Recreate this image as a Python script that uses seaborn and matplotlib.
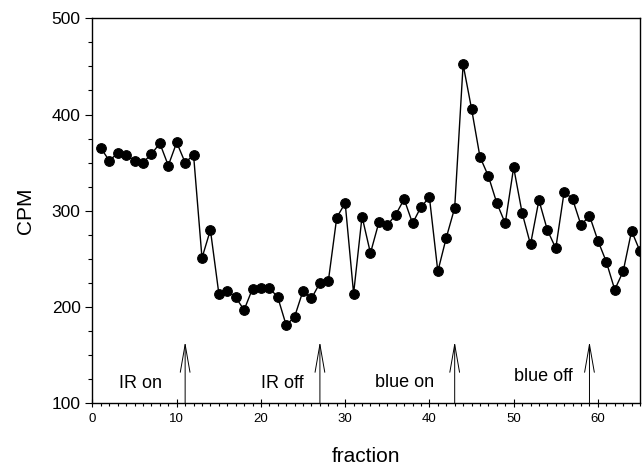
import numpy as np
import seaborn as sns
import matplotlib.pyplot as plt
from matplotlib.ticker import MultipleLocator

# CPM per fraction
fraction = list(range(1, 66))
cpm = [365, 352, 360, 358, 352, 350, 359, 370, 347, 371,
       350, 358, 251, 280, 214, 217, 210, 197, 219, 220,
       220, 210, 181, 190, 217, 209, 225, 227, 293, 308,
       214, 294, 256, 288, 285, 296, 312, 287, 304, 314,
       237, 272, 303, 452, 406, 356, 336, 308, 287, 345,
       298, 265, 311, 280, 261, 320, 312, 285, 295, 269,
       247, 218, 237, 279, 258]

# light switching events
event_x = [11, 27, 43, 59]
event_labels = ["IR on", "IR off", "blue on", "blue off"]
label_x = [5.7, 22.5, 37.1, 53.5]
label_y = [121, 121, 122, 128]

sns.set_style("ticks", {"text.color": "black", "axes.labelcolor": "black",
                        "xtick.color": "black", "ytick.color": "black",
                        "axes.edgecolor": "black"})
plt.rcParams['font.family'] = ['Liberation Sans', 'DejaVu Sans']

fig = plt.figure(figsize=(6.44, 4.68), dpi=100)
ax = fig.add_axes([0.1436, 0.1383, 0.8502, 0.8227])

sns.lineplot(x=fraction, y=cpm, ax=ax, color="black", linewidth=1.0,
             marker="o", markersize=7, markeredgecolor="black")

for xe, lab, lx, ly in zip(event_x, event_labels, label_x, label_y):
    ax.annotate("", xy=(xe, 164), xytext=(xe, 100),
                arrowprops=dict(arrowstyle="->, head_length=2.0, head_width=0.35",
                                color="black", lw=0.7, shrinkA=0, shrinkB=0,
                                mutation_scale=10))
    ax.text(lx, ly, lab, ha="center", va="center", fontsize=13, color="black")

ax.set_xlim(0, 65)
ax.set_ylim(100, 500)
ax.xaxis.set_major_locator(MultipleLocator(10))
ax.xaxis.set_minor_locator(MultipleLocator(1))
ax.yaxis.set_major_locator(MultipleLocator(100))
ax.yaxis.set_minor_locator(MultipleLocator(25))
ax.tick_params(axis="y", which="major", direction="out", length=5, width=0.8,
               labelsize=12.5, colors="black")
ax.tick_params(axis="y", which="minor", direction="out", length=3, width=0.8)
ax.tick_params(axis="x", which="major", direction="inout", length=6, width=0.8,
               labelsize=9.5, pad=4, colors="black")
ax.tick_params(axis="x", which="minor", direction="out", length=2.5, width=0.8)
for s in ax.spines.values():
    s.set_linewidth(1.0)
    s.set_color("black")

ax.set_xlabel("fraction", fontsize=15, labelpad=16, color="black")
ax.set_ylabel("CPM", fontsize=15, labelpad=12, color="black")

fig.savefig("out.png", dpi=100)
